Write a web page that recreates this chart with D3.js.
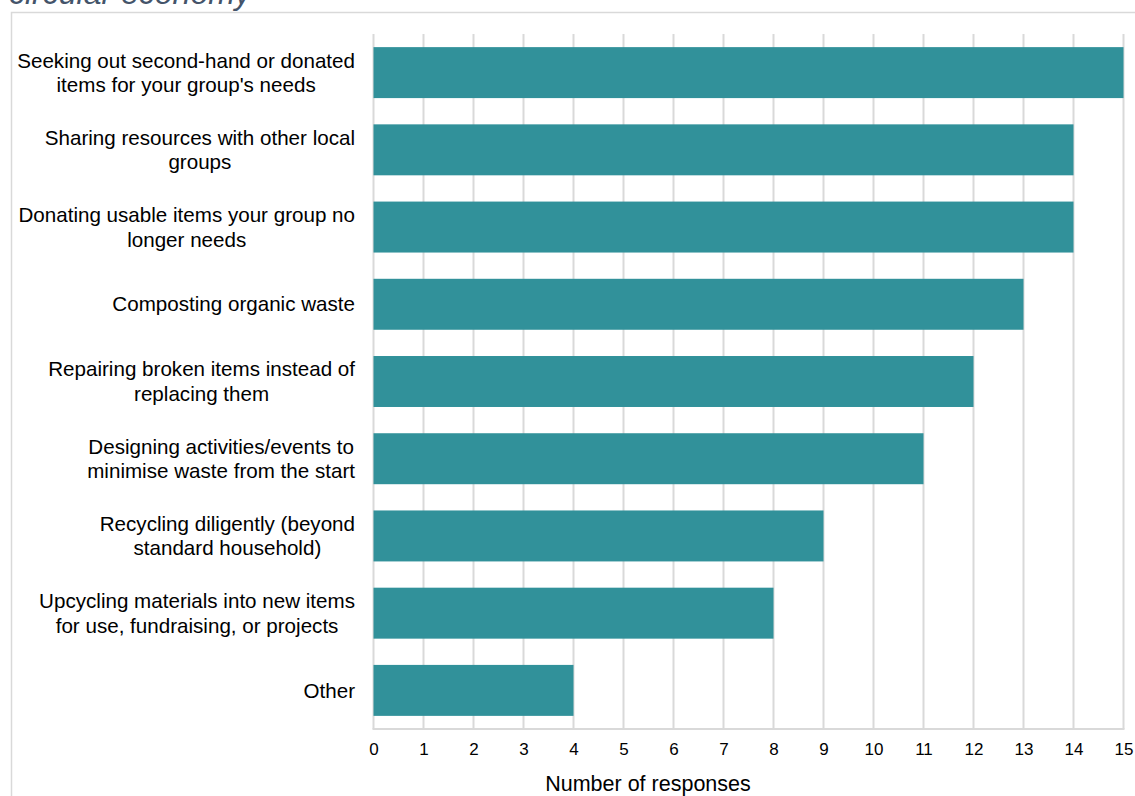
<!DOCTYPE html>
<html><head><meta charset="utf-8">
<script src="https://cdn.jsdelivr.net/npm/d3@7"></script>
<style>body{margin:0;background:#fff;}svg{display:block;font-family:"Liberation Sans",Arial,sans-serif;}</style>
</head><body>
<svg id="c" width="1135" height="796"></svg>
<script>
const categories = [
  ["Seeking out second-hand or donated", "items for your group's needs"],
  ["Sharing resources with other local", "groups"],
  ["Donating usable items your group no", "longer needs"],
  ["Composting organic waste"],
  ["Repairing broken items instead of", "replacing them"],
  ["Designing activities/events to", "minimise waste from the start"],
  ["Recycling diligently (beyond", "standard household)"],
  ["Upcycling materials into new items", "for use, fundraising, or projects"],
  ["Other"]
];
const values = [15, 14, 14, 13, 12, 11, 9, 8, 4];
const xTicks = [0,1,2,3,4,5,6,7,8,9,10,11,12,13,14,15];
const xTitle = "Number of responses";
const titleText = "circular economy";

(function(){
const svg = d3.select("#c");
const W = 1135, H = 796;
const pLeft = 373.5, pRight = 1123.5, pTop = 34, pBottom = 729;
const barColor = "#31919A", gridColor = "#d9d9d9";

svg.append("text").attr("x", 9).attr("y", 4).attr("font-size", 32).attr("font-style", "italic")
  .attr("fill", "#44546A").text(titleText);
svg.append("path").attr("d", `M11.5,${H+2}V12.5H${W+2}`).attr("fill","none").attr("stroke", gridColor).attr("stroke-width", 1.5);

const x = d3.scaleLinear().domain([0, 15]).range([pLeft, pRight]);
const idx = categories.map((d,i)=>i);
const y = d3.scaleBand().domain(idx).range([pTop, pBottom]).paddingInner(0.34).paddingOuter(0.17);

svg.append("g").selectAll("line").data(xTicks).join("line")
  .attr("x1", d=>x(d)).attr("x2", d=>x(d)).attr("y1", pTop).attr("y2", pBottom)
  .attr("stroke", gridColor).attr("stroke-width", 2);

svg.append("g").selectAll("rect").data(values).join("rect")
  .attr("x", x(0)).attr("y", (d,i)=>y(i)).attr("width", d=>x(d)-x(0)).attr("height", y.bandwidth())
  .attr("fill", barColor);

svg.append("line").attr("x1", x(0)-1).attr("x2", x(15)+1).attr("y1", pBottom).attr("y2", pBottom)
  .attr("stroke", gridColor).attr("stroke-width", 2);

const xAxis = d3.axisBottom(x).tickValues(xTicks).tickSize(0).tickPadding(14).tickFormat(d3.format("d"));
const gx = svg.append("g").attr("transform", `translate(0,${pBottom})`).call(xAxis);
gx.select(".domain").remove();
gx.selectAll("text").attr("font-size", 17).attr("fill", "#000").attr("font-family", "Liberation Sans, Arial, sans-serif");

svg.append("text").attr("x", 648).attr("y", 791).attr("text-anchor","middle")
  .attr("font-size", 21.5).attr("fill","#000").text(xTitle);

const labelRight = 355, lh = 24.5, fs = 20.6;
const lg = svg.append("g").attr("font-size", fs).attr("fill", "#000");
categories.forEach((lines, i) => {
  const cy = y(i) + y.bandwidth()/2;
  const t = lg.append("text").attr("text-anchor","middle");
  lines.forEach((ln, j) => {
    t.append("tspan").attr("y", cy + (j - (lines.length-1)/2)*lh + fs*0.35).text(ln);
  });
  let maxW = 0;
  t.selectAll("tspan").each(function(){ maxW = Math.max(maxW, this.getComputedTextLength()); });
  t.selectAll("tspan").attr("x", labelRight - maxW/2);
});
})();
</script>
</body></html>
